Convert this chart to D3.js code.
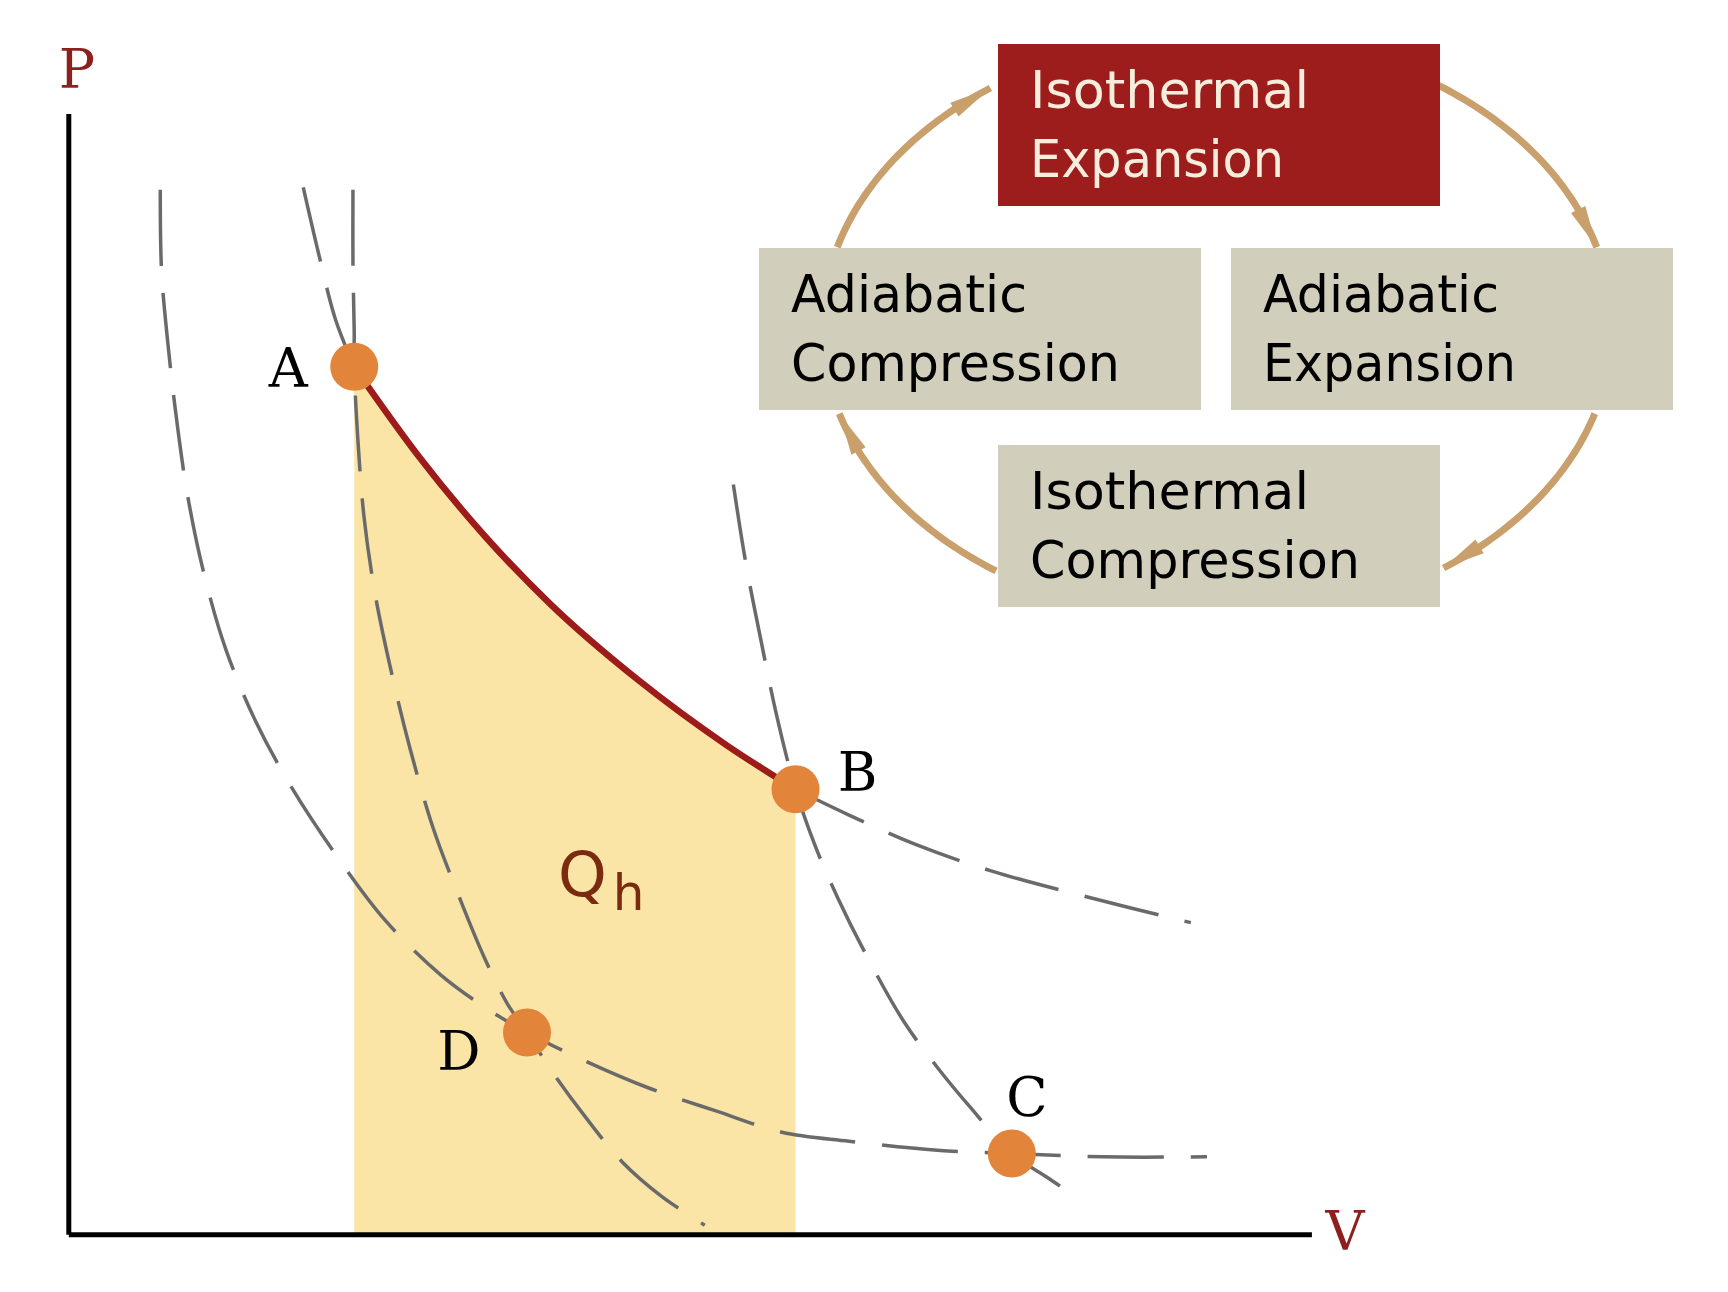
<!DOCTYPE html>
<html><head><meta charset="utf-8">
<script src="https://cdn.jsdelivr.net/npm/d3@7"></script>
<style>body{margin:0;background:#fff}svg{display:block}</style>
</head><body>
<svg id="c" width="1728" height="1292"></svg>
<script>
// ---------- data (V, P in arbitrary units 0..10) ----------
const pointNames = ["A", "B", "C", "D"];
const pointV = [2.30, 5.85, 7.59, 3.69];
const pointP = [7.74, 3.97, 0.72, 1.80];

// hot isotherm: dashed part above A, solid A->B, dashed beyond B
const hotTopV = [1.89, 2.02, 2.15, 2.30];
const hotTopP = [9.34, 8.72, 8.16, 7.74];
const hotV = [2.30, 2.82, 3.35, 3.88, 4.59, 5.30, 5.85];
const hotP = [7.74, 6.94, 6.23, 5.62, 4.94, 4.36, 3.97];
const hotTailV = [5.85, 6.28, 6.81, 7.43, 8.23, 9.03];
const hotTailP = [3.97, 3.74, 3.48, 3.24, 3.00, 2.78];

// adiabat through A and D
const adi1V = [2.29, 2.29, 2.30, 2.30, 2.33, 2.38, 2.47, 2.60, 2.75, 2.93, 3.13, 3.35, 3.53, 3.69, 3.88, 4.15, 4.46, 4.77, 5.12];
const adi1P = [9.32, 8.65, 8.06, 7.74, 7.08, 6.39, 5.70, 5.01, 4.33, 3.64, 3.05, 2.46, 2.06, 1.80, 1.47, 1.06, 0.64, 0.34, 0.08];

// adiabat through B and C
const adi2V = [5.35, 5.45, 5.57, 5.70, 5.85, 6.01, 6.19, 6.41, 6.72, 6.99, 7.25, 7.59, 7.87, 8.14];
const adi2P = [6.69, 5.99, 5.31, 4.62, 3.97, 3.46, 3.00, 2.51, 1.90, 1.49, 1.14, 0.72, 0.51, 0.31];

// cold isotherm through D and C
const coldV = [0.74, 0.75, 0.80, 0.87, 0.96, 1.09, 1.27, 1.51, 1.80, 2.15, 2.55, 3.00, 3.40, 3.69, 4.15, 4.68, 5.21, 5.74, 6.28, 6.99, 7.59, 8.32, 9.16];
const coldP = [9.32, 8.60, 7.96, 7.28, 6.59, 5.90, 5.21, 4.57, 3.98, 3.39, 2.80, 2.31, 1.99, 1.80, 1.55, 1.30, 1.10, 0.91, 0.83, 0.75, 0.72, 0.69, 0.69];

// cycle stages
const stageLines = [["Isothermal", "Expansion"], ["Adiabatic", "Compression"], ["Adiabatic", "Expansion"], ["Isothermal", "Compression"]];
const stageActive = [true, false, false, false];
const axisLabels = ["P", "V"];
const heatLabel = ["Q", "h"];

// ---------- drawing ----------
const svg = d3.select("#c");
const x = d3.scaleLinear().domain([0, 10]).range([68.3, 1311.4]);
const y = d3.scaleLinear().domain([0, 10]).range([1234.2, 113.5]);
const zip = (vs, ps) => vs.map((v, i) => [v, ps[i]]);
const line = d3.line().x(d => x(d[0])).y(d => y(d[1])).curve(d3.curveCatmullRom.alpha(0.5));
const smooth = d3.line().x(d => x(d[0])).y(d => y(d[1])).curve(d3.curveMonotoneX);

// shaded Qh area
const area = d3.area().x(d => x(d[0])).y0(y(0)).y1(d => y(d[1])).curve(d3.curveMonotoneX);
svg.append("path").attr("d", area(zip(hotV, hotP))).attr("fill", "#fbe5a6");

// dashed curves
const dashed = [zip(coldV, coldP), zip(adi1V, adi1P), zip(adi2V, adi2P), zip(hotTopV, hotTopP), zip(hotTailV, hotTailP)];
svg.selectAll("path.dash").data(dashed).enter().append("path")
  .attr("class", "dash").attr("d", line)
  .attr("fill", "none").attr("stroke", "#6a6a6a").attr("stroke-width", 3.5)
  .attr("stroke-dasharray", "76 27");

// solid isothermal expansion
svg.append("path").attr("d", smooth(zip(hotV, hotP)))
  .attr("fill", "none").attr("stroke", "#9e1b1b").attr("stroke-width", 6.5);

// axes
svg.append("g").attr("transform", `translate(0,${y(0)})`)
  .call(d3.axisBottom(x).tickValues([]).tickSizeOuter(0));
svg.append("g").attr("transform", `translate(${x(0)},0)`)
  .call(d3.axisLeft(y).tickValues([]).tickSizeOuter(0));
svg.selectAll(".domain").attr("stroke", "#000").attr("stroke-width", 5);

// axis labels
svg.append("text").attr("x", 77).attr("y", 88).text(axisLabels[0])
  .attr("text-anchor", "middle").attr("font-family", "DejaVu Serif").attr("font-size", 54).attr("fill", "#8e1f1f");
svg.append("text").attr("x", 1345).attr("y", 1250).text(axisLabels[1])
  .attr("text-anchor", "middle").attr("font-family", "DejaVu Serif").attr("font-size", 54).attr("fill", "#8e1f1f");

// Qh
const qh = svg.append("text").attr("x", 558).attr("y", 896)
  .attr("font-family", "DejaVu Sans").attr("fill", "#7a2a0e");
qh.append("tspan").text(heatLabel[0]).attr("font-size", 62);
qh.append("tspan").text(heatLabel[1]).attr("font-size", 50).attr("dx", 6).attr("dy", 14);

// state points
svg.selectAll("circle.pt").data(pointNames).enter().append("circle")
  .attr("cx", (d, i) => x(pointV[i])).attr("cy", (d, i) => y(pointP[i]))
  .attr("r", 24).attr("fill", "#e2843a");
const labelOff = {A: [-66, 20], B: [62, 2], C: [15, -38], D: [-68, 38]};
svg.selectAll("text.pl").data(pointNames).enter().append("text")
  .attr("x", (d, i) => x(pointV[i]) + labelOff[d][0]).attr("y", (d, i) => y(pointP[i]) + labelOff[d][1])
  .attr("text-anchor", "middle").attr("font-family", "DejaVu Serif").attr("font-size", 54)
  .attr("fill", "#000").text(d => d);

// cycle diagram
const cx = 1217, cy = 328, ra = 395, rb = 293;
const arcs = [[196, 235], [304, 344], [17, 55], [124, 163]];
const ell = t => [cx + ra * Math.cos(t * Math.PI / 180), cy + rb * Math.sin(t * Math.PI / 180)];
arcs.forEach(([a0, a1]) => {
  const pts = d3.range(a0, a1 + 0.01, 1).map(ell);
  svg.append("path").attr("d", d3.line()(pts)).attr("fill", "none")
    .attr("stroke", "#c9a06c").attr("stroke-width", 7).attr("stroke-linecap", "butt");
  const tip = ell(a1), back = ell(a1 - 8);
  const dx = tip[0] - back[0], dy = tip[1] - back[1], L = Math.hypot(dx, dy);
  const ux = dx / L, uy = dy / L, nx = -uy, ny = ux;
  const bx = tip[0] - ux * 42, by = tip[1] - uy * 42;
  svg.append("polygon").attr("points", [[tip[0], tip[1]], [bx + nx * 8, by + ny * 8], [bx - nx * 8, by - ny * 8]].map(p => p.join(",")).join(" "))
    .attr("fill", "#c9a06c");
});

const boxes = [[998, 44], [759, 248], [1231, 248], [998, 445]];
const lineW = [[279, 254], [236, 329], [236, 253], [279, 330]];
boxes.forEach(([bx, by], i) => {
  svg.append("rect").attr("x", bx).attr("y", by).attr("width", 442).attr("height", 162)
    .attr("fill", stageActive[i] ? "#9d1d1d" : "#d2cebc");
  stageLines[i].forEach((t, j) => {
    svg.append("text").attr("x", bx + 32).attr("y", by + 64 + j * 69).text(t)
      .attr("font-family", "DejaVu Sans").attr("font-size", 52)
      .attr("textLength", lineW[i][j]).attr("lengthAdjust", "spacingAndGlyphs")
      .attr("fill", stageActive[i] ? "#f6eddc" : "#000");
  });
});
</script>
</body></html>
